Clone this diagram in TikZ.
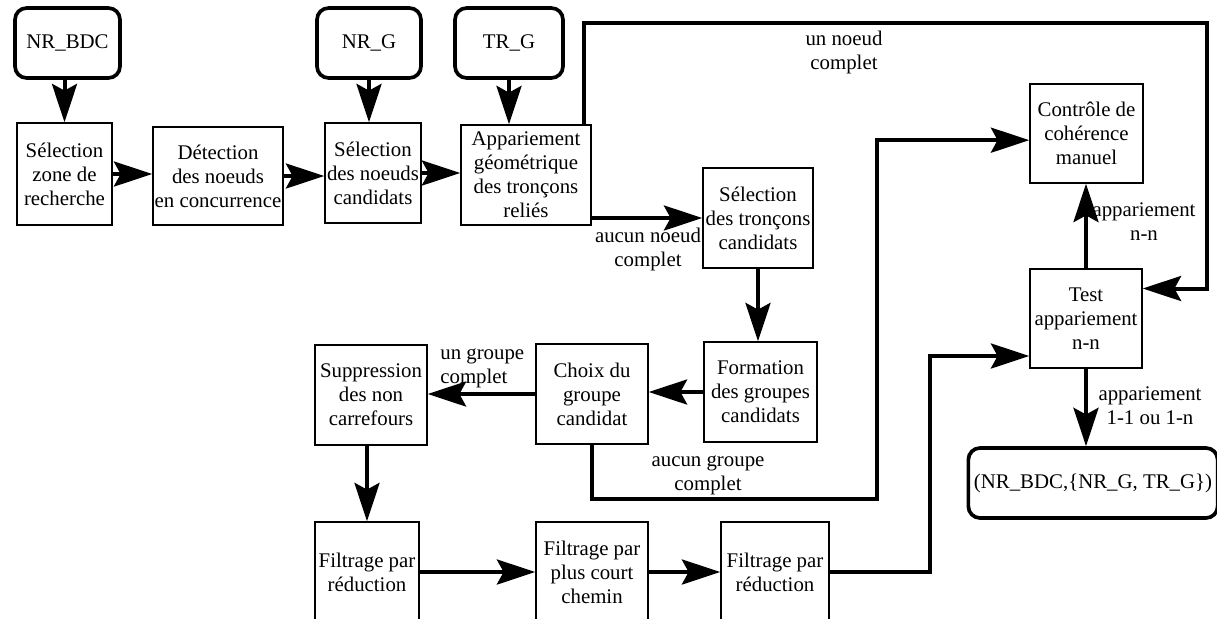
\documentclass[tikz,border=0pt]{standalone}
\usepackage{fontspec}
\setmainfont{Liberation Serif}
\newfontfamily\police{Liberation Serif}
\usetikzlibrary{arrows.meta}

\begin{document}
\begin{tikzpicture}[x=0.6pt, y=-0.6pt,
    font=\police\fontsize{12.5}{14.4}\selectfont,
    box/.style={draw, line width=0.9pt, align=center, inner sep=1pt, minimum height=60pt},
    entree/.style={draw, line width=2.2pt, rounded corners=7pt, align=center, minimum height=42pt},
    fleche/.style={line width=2.4pt, -{Stealth[length=23pt, width=15pt, inset=4pt]}},
    etiq/.style={align=center, inner sep=0pt}]
    \useasboundingbox (0,0) rectangle (1217,618);
    \clip (0,0) rectangle (1217,618);

    % entrées
    \node[entree, minimum width=63pt] (nrbdc) at (67.5,43) {NR\_BDC};
    \node[entree, minimum width=62.4pt] (nrg) at (369,43) {NR\_G};
    \node[entree, minimum width=64.8pt] (trg) at (509,43) {TR\_G};

    % appariement des noeuds
    \node[box, minimum width=57pt, minimum height=61.2pt] (selzone) at (64.5,174) {Sélection\\zone de\\recherche};
    \node[box, minimum width=78pt, minimum height=58.8pt] (detect) at (218,176) {Détection\\des noeuds\\en concurrence};
    \node[box, minimum width=57.6pt] (selnoeud) at (373,173) {Sélection\\des noeuds\\candidats};
    \node[box, minimum width=78pt] (appgeo) at (526,175) {Appariement\\géométrique\\des tronçons\\reliés};
    \node[box, minimum width=66pt] (seltroncon) at (758,218) {Sélection\\des tronçons\\candidats};
    \node[box, minimum width=67.8pt, minimum height=59.4pt] (controle) at (1086.5,133.5) {Contrôle de\\cohérence\\manuel};
    \node[box, minimum width=67.2pt, minimum height=59.4pt] (test) at (1086,318.5) {Test\\appariement\\n-n};

    % groupes candidats
    \node[box, minimum width=67.8pt] (formation) at (760.5,392) {Formation\\des groupes\\candidats};
    \node[box, minimum width=67.2pt] (choix) at (592,394) {Choix du\\groupe\\candidat};
    \node[box, minimum width=67.2pt] (suppr) at (371,395) {Suppression\\des non\\carrefours};
    \node[box, minimum width=62.4pt] (filtA) at (367,572) {Filtrage par\\réduction};
    \node[box, minimum width=67.2pt] (filtB) at (592,572) {Filtrage par\\plus court\\chemin};
    \node[box, minimum width=64.8pt] (filtC) at (775,572) {Filtrage par\\réduction};

    % sortie
    \node[entree, minimum width=145.2pt] (sortie) at (1093,483) {(NR\_BDC,\{NR\_G, TR\_G\})};

    % flèches
    \draw[fleche] (nrbdc.south -| selzone.north) -- (selzone.north);
    \draw[fleche] (nrg.south) -- (nrg.south |- selnoeud.north);
    \draw[fleche] (trg.south) -- (trg.south |- appgeo.north);
    \draw[fleche] (selzone.east) -- (selzone.east -| detect.west);
    \draw[fleche] (detect.east) -- (detect.east -| selnoeud.west);
    \draw[fleche] (selnoeud.east) -- (selnoeud.east -| appgeo.west);

    \draw[fleche] (appgeo.east |- seltroncon.west) -- (seltroncon.west);
    \node[etiq] (lblA) at (648,249) {aucun noeud\\complet};

    \coordinate (coinA) at (1207,23);
    \draw[fleche] ([xshift=-4.8pt]appgeo.north east) |- (coinA) |- ([yshift=18pt]test.east);
    \node[etiq] (lblB) at (844,52) {un noeud\\complet};

    \draw[fleche] (seltroncon.south) -- (seltroncon.south |- formation.north);
    \draw[fleche] (formation.west) -- (formation.west -| choix.east);
    \draw[fleche] (choix.west) -- (choix.west -| suppr.east);
    \node[etiq, align=left, anchor=south west] (lblC) at (440,388) {un groupe\\complet};

    \coordinate (coinB) at (877,499);
    \draw[fleche] (choix.south) |- (coinB) |- ([yshift=-4pt]controle.west);
    \node[etiq] (lblD) at (708,475) {aucun groupe\\complet};

    \draw[fleche] (suppr.south -| filtA.north) -- (filtA.north);
    \draw[fleche] (filtA.east) -- (filtA.east -| filtB.west);
    \draw[fleche] (filtB.east) -- (filtB.east -| filtC.west);
    \draw[fleche] (filtC.east) -- ++(60pt,0) |- ([yshift=-22.5pt]test.west);

    \draw[fleche] (test.north) -- (test.north |- controle.south);
    \node[etiq] (lblE) at (1144,222) {appariement\\n-n};
    \draw[fleche] (test.south) -- (test.south |- sortie.north);
    \node[etiq] (lblF) at (1150,406) {appariement\\1-1 ou 1-n};
\end{tikzpicture}
\end{document}
